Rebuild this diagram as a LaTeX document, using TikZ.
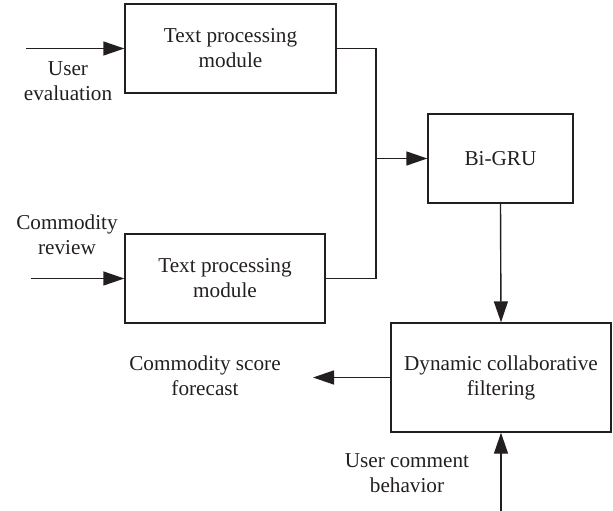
\documentclass[tikz,border=0pt]{standalone}
\usepackage{fontspec}
\setmainfont{Liberation Serif}
\usetikzlibrary{arrows.meta}
\definecolor{ink}{HTML}{231F20}
\begin{document}
\begin{tikzpicture}[x=1pt,y=-1pt,
  box/.style={draw=ink,line width=1.4pt,align=center,text=ink,font=\fontsize{21.2}{25}\selectfont,inner sep=0pt},
  lbl/.style={align=center,text=ink,font=\fontsize{21.2}{25}\selectfont,inner sep=0pt},
  conn/.style={draw=ink,line width=1.4pt},
  arr/.style={conn,-{Triangle[length=21pt,width=14pt]}}]
\useasboundingbox (0,0) rectangle (613,511);
\node[box,minimum width=211pt,minimum height=89pt] (b1) at (230.5,48.5) {Text processing\\module};
\node[box,minimum width=200pt,minimum height=89pt] (b2) at (225,278.5) {Text processing\\module};
\node[box,minimum width=145pt,minimum height=89pt] (gru) at (500.5,158.5) {Bi-GRU};
\node[box,minimum width=220pt,minimum height=109pt] (dcf) at (501,377.5) {Dynamic collaborative\\filtering};
\coordinate (in1) at (26,48.5);
\coordinate (in2) at (31,278.5);
\coordinate (j) at (376,158.5);
\coordinate (out) at (313,377.5);
\coordinate (in3) at (501,511);
\node[lbl] (l1) at (68,81) {User\\evaluation};
\node[lbl] (l2) at (67,235) {Commodity\\review};
\node[lbl] (l3) at (205,376) {Commodity score\\forecast};
\node[lbl] (l4) at (407,473) {User comment\\behavior};
\draw[arr] (in1) -- (b1.west);
\draw[arr] (in2) -- (b2.west);
\draw[conn] (b1.east) -| (j);
\draw[conn] (b2.east) -| (j);
\draw[arr] (j) -- (gru.west);
\draw[arr] (gru.south) -- (dcf.north);
\draw[arr] (dcf.west) -- (out);
\draw[arr] (in3) -- (dcf.south);
\end{tikzpicture}
\end{document}
